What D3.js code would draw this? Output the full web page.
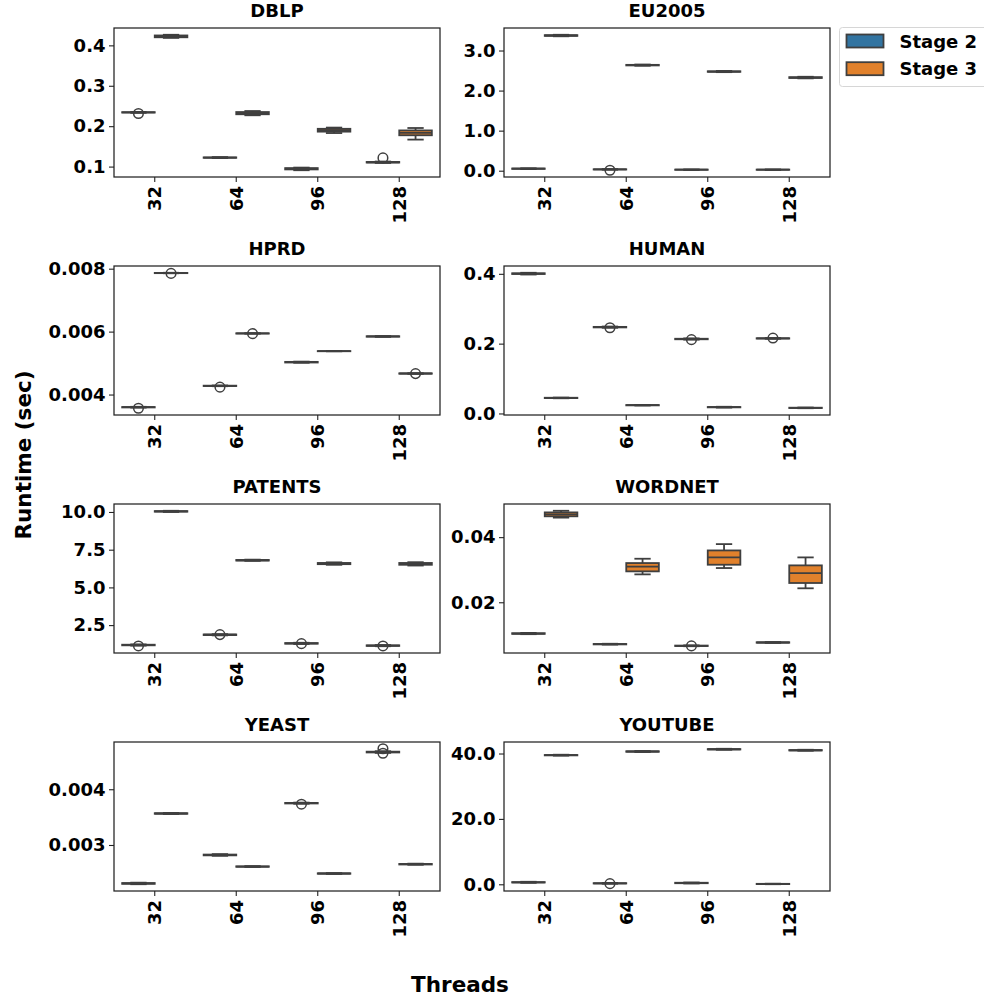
<!DOCTYPE html>
<html>
<head>
<meta charset="utf-8">
<script src="https://cdn.jsdelivr.net/npm/d3@7"></script>
<style>
  body { margin: 0; background: #fff; }
  svg { display: block; font-family: "DejaVu Sans", sans-serif; font-weight: bold; }
</style>
</head>
<body>
<svg width="984" height="1002"></svg>
<script>
// categories
var threads = ["32", "64", "96", "128"];
var stages = ["Stage 2", "Stage 3"];
var colors = ["#3274a1", "#e1812c"];
var datasets = ["DBLP", "EU2005", "HPRD", "HUMAN", "PATENTS", "WORDNET", "YEAST", "YOUTUBE"];

// box stats per dataset: [lo, q1, median, q3, hi], order 32/S2, 32/S3, 64/S2, 64/S3, ...
var dblpBoxes = [
  [0.2330, 0.2337, 0.2342, 0.2347, 0.2354], [0.4185, 0.4200, 0.4222, 0.4245, 0.4262],
  [0.1210, 0.1217, 0.1222, 0.1228, 0.1235], [0.2270, 0.2295, 0.2322, 0.2350, 0.2375],
  [0.0910, 0.0930, 0.0948, 0.0962, 0.0975], [0.1830, 0.1865, 0.1900, 0.1935, 0.1965],
  [0.1090, 0.1100, 0.1107, 0.1115, 0.1125], [0.1668, 0.1775, 0.1835, 0.1895, 0.1955]
];
var eu2005Boxes = [
  [0.040, 0.045, 0.050, 0.055, 0.060], [3.355, 3.365, 3.375, 3.383, 3.393],
  [0.025, 0.030, 0.033, 0.036, 0.040], [2.620, 2.628, 2.635, 2.642, 2.650],
  [0.018, 0.022, 0.025, 0.028, 0.032], [2.460, 2.468, 2.475, 2.482, 2.490],
  [0.018, 0.022, 0.025, 0.028, 0.032], [2.305, 2.315, 2.325, 2.335, 2.345]
];
var hprdBoxes = [
  [0.003585, 0.003590, 0.003597, 0.003603, 0.003610], [0.007855, 0.007858, 0.007862, 0.007866, 0.007870],
  [0.004265, 0.004270, 0.004276, 0.004282, 0.004288], [0.005935, 0.005938, 0.005942, 0.005946, 0.005950],
  [0.005010, 0.005018, 0.005029, 0.005038, 0.005046], [0.005374, 0.005376, 0.005379, 0.005382, 0.005384],
  [0.005832, 0.005838, 0.005846, 0.005853, 0.005860], [0.004658, 0.004663, 0.004668, 0.004673, 0.004678]
];
var humanBoxes = [
  [0.398, 0.3995, 0.4005, 0.4015, 0.403], [0.0435, 0.044, 0.0445, 0.045, 0.0455],
  [0.2455, 0.2465, 0.2473, 0.248, 0.249], [0.0228, 0.0232, 0.0237, 0.0242, 0.0246],
  [0.2115, 0.2125, 0.2133, 0.214, 0.215], [0.0168, 0.0175, 0.018, 0.0185, 0.0192],
  [0.2140, 0.2145, 0.2150, 0.2155, 0.2160], [0.0150, 0.0155, 0.0160, 0.0165, 0.0170]
];
var patentsBoxes = [
  [1.14, 1.16, 1.18, 1.20, 1.22], [10.00, 10.02, 10.04, 10.06, 10.08],
  [1.82, 1.84, 1.86, 1.88, 1.90], [6.76, 6.78, 6.80, 6.82, 6.84],
  [1.25, 1.27, 1.29, 1.31, 1.33], [6.50, 6.54, 6.58, 6.62, 6.66],
  [1.10, 1.12, 1.14, 1.16, 1.18], [6.45, 6.50, 6.56, 6.62, 6.67]
];
var wordnetBoxes = [
  [0.0102, 0.0103, 0.0104, 0.0105, 0.0106], [0.0460, 0.0464, 0.0470, 0.0476, 0.0481],
  [0.0070, 0.00706, 0.00714, 0.00720, 0.00726], [0.02857, 0.02949, 0.03092, 0.03204, 0.03337],
  [0.00650, 0.00656, 0.00663, 0.00670, 0.00676], [0.03051, 0.03153, 0.03377, 0.03592, 0.03786],
  [0.00752, 0.00758, 0.00765, 0.00772, 0.00778], [0.02429, 0.02592, 0.02898, 0.03133, 0.03378]
];
var yeastBoxes = [
  [0.002296, 0.002303, 0.002310, 0.002317, 0.002324], [0.003555, 0.003560, 0.003565, 0.003570, 0.003575],
  [0.002806, 0.002814, 0.002821, 0.002828, 0.002836], [0.002605, 0.002609, 0.002613, 0.002617, 0.002621],
  [0.003740, 0.003745, 0.003750, 0.003755, 0.003760], [0.002480, 0.002484, 0.002488, 0.002492, 0.002496],
  [0.004652, 0.004660, 0.004667, 0.004674, 0.004682], [0.002645, 0.002650, 0.002655, 0.002660, 0.002665]
];
var youtubeBoxes = [
  [0.45, 0.55, 0.61, 0.67, 0.77], [39.35, 39.43, 39.49, 39.55, 39.63],
  [0.18, 0.25, 0.30, 0.35, 0.42], [40.45, 40.54, 40.61, 40.68, 40.77],
  [0.25, 0.33, 0.40, 0.47, 0.55], [41.15, 41.24, 41.30, 41.36, 41.45],
  [0.02, 0.06, 0.10, 0.14, 0.18], [40.85, 40.94, 41.00, 41.06, 41.15]
];

// outliers: [thread index, stage index, value]
var dblpFliers = [[0, 0, 0.2315], [3, 0, 0.1215]];
var eu2005Fliers = [[1, 0, 0.012]];
var hprdFliers = [[0, 0, 0.003565], [0, 1, 0.007850], [1, 0, 0.004235], [1, 1, 0.005935], [3, 1, 0.004665]];
var humanFliers = [[1, 0, 0.2455], [2, 0, 0.2115], [3, 0, 0.2160]];
var patentsFliers = [[0, 0, 1.12], [1, 0, 1.87], [2, 0, 1.27], [3, 0, 1.12]];
var wordnetFliers = [[2, 0, 0.0066]];
var yeastFliers = [[2, 0, 0.003732], [3, 0, 0.004726], [3, 0, 0.004645]];
var youtubeFliers = [[1, 0, 0.20]];

// tick labels
var dblpTicks = [0.1, 0.2, 0.3, 0.4];
var eu2005Ticks = [0, 1, 2, 3];
var hprdTicks = [0.004, 0.006, 0.008];
var humanTicks = [0, 0.2, 0.4];
var patentsTicks = [2.5, 5, 7.5, 10];
var wordnetTicks = [0.02, 0.04];
var yeastTicks = [0.003, 0.004];
var youtubeTicks = [0, 20, 40];
var tickFormats = [".1f", ".1f", ".3f", ".1f", ".1f", ".2f", ".3f", ".1f"];

var allBoxes = [dblpBoxes, eu2005Boxes, hprdBoxes, humanBoxes, patentsBoxes, wordnetBoxes, yeastBoxes, youtubeBoxes];
var allFliers = [dblpFliers, eu2005Fliers, hprdFliers, humanFliers, patentsFliers, wordnetFliers, yeastFliers, youtubeFliers];
var allTicks = [dblpTicks, eu2005Ticks, hprdTicks, humanTicks, patentsTicks, wordnetTicks, yeastTicks, youtubeTicks];

var svg = d3.select("svg");
var edge = "#3f3f3f";
var pw = 326, ph = 149;
var colX = [114, 504], rowY = [28, 266, 504, 742];

datasets.forEach(function(name, i) {
  var boxes = allBoxes[i], fliers = allFliers[i];
  var g = svg.append("g")
      .attr("transform", "translate(" + colX[i % 2] + "," + rowY[Math.floor(i / 2)] + ")");

  var x = d3.scaleBand().domain(threads).range([0, pw]);
  var xs = d3.scaleBand().domain(stages).range([0, x.bandwidth()]).paddingOuter(0.25);

  // matplotlib style 5% margin around data
  var vals = [];
  boxes.forEach(function(b) { vals.push(b[0], b[4]); });
  fliers.forEach(function(f) { vals.push(f[2]); });
  var ext = d3.extent(vals), pad = (ext[1] - ext[0]) * 0.05;
  var y = d3.scaleLinear().domain([ext[0] - pad, ext[1] + pad]).range([ph, 0]);

  // boxes
  boxes.forEach(function(b, k) {
    var t = threads[Math.floor(k / 2)], s = k % 2;
    var x0 = x(t) + xs(stages[s]), w = xs.bandwidth(), cx = x0 + w / 2;
    var bg = g.append("g").attr("stroke", edge).attr("stroke-width", 1.8).attr("fill", "none");
    bg.append("line").attr("x1", cx).attr("x2", cx).attr("y1", y(b[0])).attr("y2", y(b[1]));
    bg.append("line").attr("x1", cx).attr("x2", cx).attr("y1", y(b[3])).attr("y2", y(b[4]));
    bg.append("line").attr("x1", cx - w / 4).attr("x2", cx + w / 4).attr("y1", y(b[0])).attr("y2", y(b[0]));
    bg.append("line").attr("x1", cx - w / 4).attr("x2", cx + w / 4).attr("y1", y(b[4])).attr("y2", y(b[4]));
    bg.append("rect")
        .attr("x", x0).attr("width", w)
        .attr("y", y(b[3])).attr("height", Math.max(0, y(b[1]) - y(b[3])))
        .attr("fill", colors[s]);
    bg.append("line").attr("x1", x0).attr("x2", x0 + w).attr("y1", y(b[2])).attr("y2", y(b[2]));
  });

  g.selectAll("circle.flier")
    .data(fliers)
    .enter().append("circle")
      .attr("class", "flier")
      .attr("cx", function(d) { return x(threads[d[0]]) + xs(stages[d[1]]) + xs.bandwidth() / 2; })
      .attr("cy", function(d) { return y(d[2]); })
      .attr("r", 4.8)
      .attr("fill", "none")
      .attr("stroke", edge)
      .attr("stroke-width", 1.5);

  // frame
  g.append("rect").attr("width", pw).attr("height", ph)
      .attr("fill", "none").attr("stroke", "#222").attr("stroke-width", 1.25);

  // axes
  var yAxis = g.append("g")
      .call(d3.axisLeft(y).tickValues(allTicks[i]).tickFormat(d3.format(tickFormats[i])).tickSize(5).tickPadding(3.5));
  var xAxis = g.append("g").attr("transform", "translate(0," + ph + ")")
      .call(d3.axisBottom(x).tickSize(5).tickPadding(3.5));
  [xAxis, yAxis].forEach(function(a) {
    a.select(".domain").remove();
    a.selectAll(".tick line").attr("stroke", "#222").attr("stroke-width", 1.1);
    a.selectAll("text").attr("fill", "#000").style("font-size", "18px").style("font-family", "DejaVu Sans").style("font-weight", "bold");
  });
  xAxis.selectAll("text")
      .attr("transform", "rotate(-90)")
      .attr("text-anchor", "end")
      .attr("x", -9).attr("y", 0).attr("dy", "0.35em");

  g.append("text")
      .attr("x", pw / 2).attr("y", -11)
      .attr("text-anchor", "middle")
      .style("font-size", "18px")
      .text(name);
});

// shared axis labels
svg.append("text")
    .attr("transform", "translate(31,455) rotate(-90)")
    .attr("text-anchor", "middle")
    .style("font-size", "21.5px")
    .text("Runtime (sec)");
svg.append("text")
    .attr("x", 460).attr("y", 992)
    .attr("text-anchor", "middle")
    .style("font-size", "21.5px")
    .text("Threads");

// legend
var lg = svg.append("g").attr("transform", "translate(839.5,27.5)");
lg.append("rect").attr("width", 160).attr("height", 59).attr("rx", 3)
    .attr("fill", "#fff").attr("stroke", "#d6d6d6").attr("stroke-width", 1);
stages.forEach(function(s, k) {
  lg.append("rect")
      .attr("x", 7).attr("y", 7 + k * 27.7).attr("width", 37).attr("height", 13)
      .attr("fill", colors[k]).attr("stroke", edge).attr("stroke-width", 1.8);
  lg.append("text")
      .attr("x", 60).attr("y", 20 + k * 27.7)
      .style("font-size", "18px")
      .text(s);
});
</script>
</body>
</html>
